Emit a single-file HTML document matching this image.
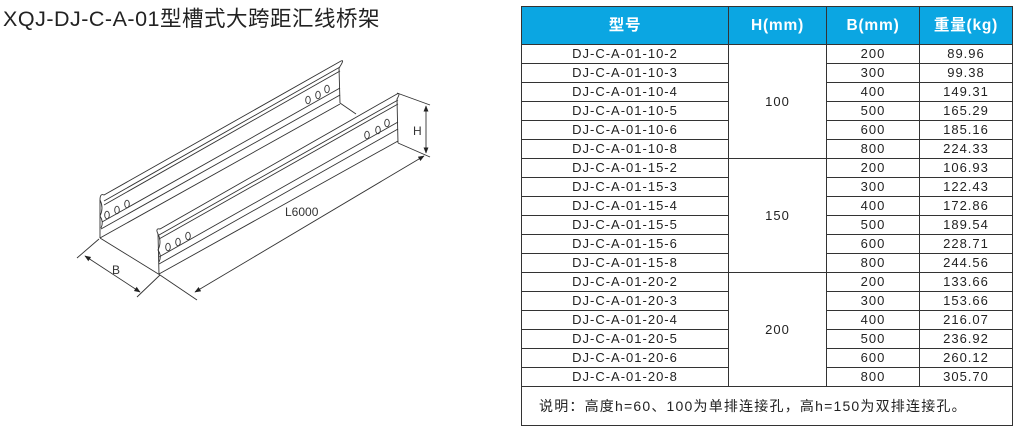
<!DOCTYPE html>
<html><head><meta charset="utf-8"><style>
body{margin:0;width:1018px;height:432px;background:#fff;position:relative;overflow:hidden;font-family:"Liberation Sans","Noto Sans CJK SC",sans-serif;}
.title{position:absolute;left:3px;top:2px;font-size:21.5px;color:#222;white-space:nowrap;letter-spacing:0.5px}
table{position:absolute;left:521px;top:6px;border-collapse:collapse;font-size:13px;color:#222;letter-spacing:1px}
td,th{border:1.3px solid #333;text-align:center;padding:0;height:18px;line-height:18px}
th{background:#0ba6e2;color:#fff;font-size:15.5px;font-weight:bold;height:37px;letter-spacing:0.8px}
.note{text-align:left;padding-left:17px;height:38px;font-size:14px;letter-spacing:1.2px}
</style></head><body>
<div class="title">XQJ-DJ-C-A-01型槽式大跨距汇线桥架</div>
<svg width="1018" height="432" style="position:absolute;left:0;top:0" fill="none" stroke="#333" stroke-width="0.9">
<defs><marker id="a" viewBox="0 0 10 10" refX="9" refY="5" markerWidth="7" markerHeight="7" orient="auto-start-reverse"><path d="M0,1 L10,5 L0,9z" fill="#222" stroke="none"/></marker></defs>
<g>
<path d="M100,238 L100,200 Q100,193 104,195 L341,61 Q345,59 339,68 L340,103"/>
<line x1="104" y1="201" x2="340" y2="67"/>
<line x1="104" y1="205" x2="340" y2="71"/>
<line x1="102" y1="222" x2="340" y2="88"/>
<line x1="101" y1="229" x2="340" y2="95"/>
<line x1="100" y1="238" x2="340" y2="104"/>
<path d="M100,200 q4,8 0,16 q4,6 1,12"/>
<ellipse cx="107" cy="215" rx="2.3" ry="3.8"/><ellipse cx="117" cy="210" rx="2.3" ry="3.8"/><ellipse cx="127" cy="204" rx="2.3" ry="3.8"/>
<ellipse cx="308" cy="100" rx="2.3" ry="3.8"/><ellipse cx="318" cy="95" rx="2.3" ry="3.8"/><ellipse cx="327" cy="89" rx="2.3" ry="3.8"/>
<line x1="340" y1="103" x2="356" y2="114"/>
</g>
<g>
<path d="M159,274 L158,234 Q155,228 160,229 L397,94 Q401,92 397,99 L398,143"/>
<line x1="159" y1="235" x2="398" y2="100"/>
<line x1="159" y1="239" x2="398" y2="104"/>
<line x1="159" y1="257" x2="398" y2="122"/>
<line x1="159" y1="264" x2="398" y2="129"/>
<line x1="159" y1="274" x2="398" y2="141"/>
<path d="M158,234 q4,8 0,16 q4,6 1,12"/>
<ellipse cx="168" cy="247" rx="2.3" ry="3.8"/><ellipse cx="178" cy="242" rx="2.3" ry="3.8"/><ellipse cx="188" cy="236" rx="2.3" ry="3.8"/>
<ellipse cx="367" cy="135" rx="2.3" ry="3.8"/><ellipse cx="378" cy="130" rx="2.3" ry="3.8"/><ellipse cx="387" cy="123" rx="2.3" ry="3.8"/>
</g>
<line x1="100" y1="238" x2="160" y2="275"/>
<line x1="99" y1="239" x2="77" y2="258"/>
<line x1="160" y1="275" x2="137" y2="297"/>
<line x1="85" y1="256" x2="140" y2="292" marker-start="url(#a)" marker-end="url(#a)"/>
<line x1="160" y1="275" x2="197" y2="300"/>
<line x1="398" y1="143" x2="430" y2="157"/>
<line x1="195" y1="292" x2="424" y2="156" marker-start="url(#a)" marker-end="url(#a)"/>
<line x1="397" y1="93" x2="430" y2="105"/>
<line x1="426" y1="106" x2="426" y2="153" marker-start="url(#a)" marker-end="url(#a)"/>
<g fill="#333" stroke="none" font-size="12" font-family="Liberation Sans,sans-serif">
<text x="112" y="274">B</text><text x="285" y="216">L6000</text><text x="413" y="135">H</text>
</g>
</svg>
<table>
<colgroup><col style="width:207px"><col style="width:98px"><col style="width:93px"><col style="width:93px"></colgroup>
<tr><th>型号</th><th>H(mm)</th><th>B(mm)</th><th>重量(kg)</th></tr>
<tr><td>DJ-C-A-01-10-2</td><td rowspan="6">100</td><td>200</td><td>89.96</td></tr>
<tr><td>DJ-C-A-01-10-3</td><td>300</td><td>99.38</td></tr>
<tr><td>DJ-C-A-01-10-4</td><td>400</td><td>149.31</td></tr>
<tr><td>DJ-C-A-01-10-5</td><td>500</td><td>165.29</td></tr>
<tr><td>DJ-C-A-01-10-6</td><td>600</td><td>185.16</td></tr>
<tr><td>DJ-C-A-01-10-8</td><td>800</td><td>224.33</td></tr>
<tr><td>DJ-C-A-01-15-2</td><td rowspan="6">150</td><td>200</td><td>106.93</td></tr>
<tr><td>DJ-C-A-01-15-3</td><td>300</td><td>122.43</td></tr>
<tr><td>DJ-C-A-01-15-4</td><td>400</td><td>172.86</td></tr>
<tr><td>DJ-C-A-01-15-5</td><td>500</td><td>189.54</td></tr>
<tr><td>DJ-C-A-01-15-6</td><td>600</td><td>228.71</td></tr>
<tr><td>DJ-C-A-01-15-8</td><td>800</td><td>244.56</td></tr>
<tr><td>DJ-C-A-01-20-2</td><td rowspan="6">200</td><td>200</td><td>133.66</td></tr>
<tr><td>DJ-C-A-01-20-3</td><td>300</td><td>153.66</td></tr>
<tr><td>DJ-C-A-01-20-4</td><td>400</td><td>216.07</td></tr>
<tr><td>DJ-C-A-01-20-5</td><td>500</td><td>236.92</td></tr>
<tr><td>DJ-C-A-01-20-6</td><td>600</td><td>260.12</td></tr>
<tr><td>DJ-C-A-01-20-8</td><td>800</td><td>305.70</td></tr>
<tr><td colspan="4" class="note">说明：高度h=60、100为单排连接孔，高h=150为双排连接孔。</td></tr>
</table>
</body></html>
